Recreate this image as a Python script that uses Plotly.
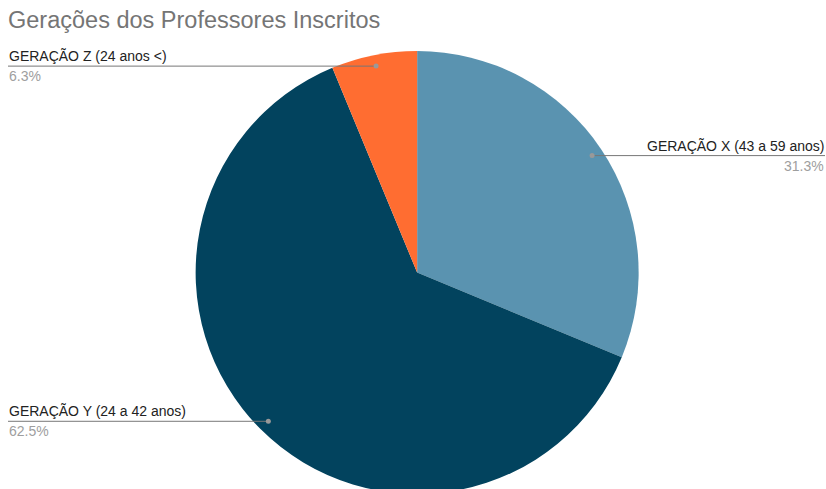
import math
from decimal import Decimal, ROUND_HALF_UP
import plotly.graph_objects as go

labels = ["GERAÇÃO X (43 a 59 anos)", "GERAÇÃO Y (24 a 42 anos)", "GERAÇÃO Z (24 anos <)"]
values = [5, 10, 1]
colors = ["#5A93B0", "#02435E", "#FF6D31"]
title = "Gerações dos Professores Inscritos"

W, H = 826, 494   # figure slightly taller than the 489 viewport: bottom of pie is cut like the reference
MT = 51
plot_h = H - MT
dom_x = [0.01, 1.0]
cx = (dom_x[0] + dom_x[1]) / 2 * W
R = plot_h / 2
cy = MT + R  # pixel from top

def px_to_paper(x, y):
    return x / W, (H - y) / plot_h

fig = go.Figure(go.Pie(
    labels=labels, values=values, sort=False, direction="clockwise", rotation=0,
    marker=dict(colors=colors, line=dict(width=0)), textinfo="none", hoverinfo="label+percent",
    domain=dict(x=dom_x, y=[0, 1]), showlegend=False,
))

total = sum(values)
shapes, annotations = [], []
cum = 0
for lab, v in zip(labels, values):
    mid = (cum + v / 2) / total * 2 * math.pi
    cum += v
    dx = math.sin(mid) * R * 0.95
    dy = -math.cos(mid) * R * 0.95
    px, py = cx + dx, cy + dy
    pct = str((Decimal(v) * 100 / Decimal(total)).quantize(Decimal("0.1"), rounding=ROUND_HALF_UP)) + "%"
    right = dx > 0
    edge = 825 if right else 8
    x0p, y0p = px_to_paper(px, py)
    xep, _ = px_to_paper(edge, py)
    shapes.append(dict(type="line", xref="paper", yref="paper", x0=x0p, x1=xep, y0=y0p, y1=y0p,
                       line=dict(color="#777777", width=1)))
    shapes.append(dict(type="circle", xref="paper", yref="paper",
                       x0=(px - 2.5) / W, x1=(px + 2.5) / W,
                       y0=(H - py - 2.5) / plot_h, y1=(H - py + 2.5) / plot_h,
                       fillcolor="#999999", line=dict(width=0)))
    anchor = "right" if right else "left"
    annotations.append(dict(xref="paper", yref="paper", x=xep, y=y0p + 1 / plot_h, text=lab,
                            showarrow=False, xanchor=anchor, yanchor="bottom", align=anchor,
                            font=dict(family="Liberation Sans, Arial", size=14, color="#222222"),
                            borderpad=0))
    annotations.append(dict(xref="paper", yref="paper", x=xep, y=y0p - 1 / plot_h, text=pct,
                            showarrow=False, xanchor=anchor, yanchor="top", align=anchor,
                            font=dict(family="Liberation Sans, Arial", size=14, color="#9E9E9E"),
                            borderpad=0))

fig.update_layout(
    width=W, height=H, margin=dict(l=0, r=0, t=MT, b=0),
    paper_bgcolor="white", plot_bgcolor="white",
    title=dict(text=title, x=8 / W, xref="container", xanchor="left",
               y=1 - 20 / H, yref="container", yanchor="middle",
               font=dict(family="Liberation Sans, Arial", size=23.5, color="#757575")),
    shapes=shapes, annotations=annotations,
)
fig.write_html(
    "out.html",
    post_script="document.documentElement.style.overflow='hidden';document.body.style.overflow='hidden';",
)
